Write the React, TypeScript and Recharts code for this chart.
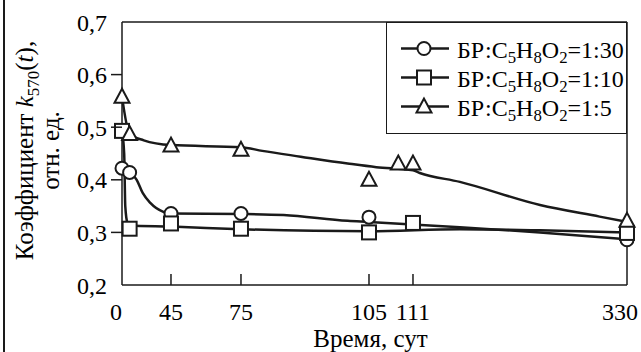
import React from 'react';
import { ComposedChart, Line, XAxis, YAxis, ReferenceLine, Legend } from 'recharts';

const FONT = '"Liberation Serif", "Times New Roman", serif';
const INK = '#1a1a1a';

// x axis: tick labels (days) and their positions on a 0..100 display scale (non-linear axis)
const xTickLabels = [0, 45, 75, 105, 111, 330];
const xTickPositions = [0, 9.7, 23.56, 48.91, 57.62, 100];
const yTicks = [0.2, 0.3, 0.4, 0.5, 0.6, 0.7];

const seriesRatios = ['1:30', '1:10', '1:5'];

// measured points (markers)
const m30Days = [0, 7, 45, 75, 105, 330];
const m30Vals = [0.422, 0.414, 0.336, 0.336, 0.329, 0.286];
const m10Days = [0, 7, 45, 75, 105, 111, 330];
const m10Vals = [0.493, 0.307, 0.317, 0.307, 0.3, 0.318, 0.299];
const m5Days = [0, 7, 45, 75, 105, 109, 111, 330];
const m5Vals = [0.558, 0.487, 0.465, 0.457, 0.4, 0.431, 0.431, 0.322];

// smoothed fit curves
const fit30Days = [0, 7, 13.5, 19, 26, 38, 45, 75, 85, 100, 105, 159, 241, 330];
const fit30Vals = [0.422, 0.416, 0.4, 0.375, 0.356, 0.339, 0.336, 0.335, 0.333, 0.322, 0.32, 0.31, 0.3, 0.287];
const fit10Days = [0, 2, 3, 5, 7, 45, 75, 105, 159, 241, 330];
const fit10Vals = [0.493, 0.45, 0.35, 0.318, 0.313, 0.311, 0.306, 0.302, 0.306, 0.304, 0.3];
const fit5Days = [0, 7, 20, 45, 75, 80, 89, 100, 106, 111, 118, 159, 241, 302, 330];
const fit5Vals = [0.558, 0.487, 0.475, 0.466, 0.462, 0.455, 0.444, 0.431, 0.424, 0.418, 0.413, 0.396, 0.352, 0.33, 0.32];

function toAxis(t: number): number {
  for (let i = 0; i < xTickLabels.length - 1; i++) {
    const a = xTickLabels[i];
    const b = xTickLabels[i + 1];
    if (t >= a && t <= b) {
      return xTickPositions[i] + ((t - a) / (b - a)) * (xTickPositions[i + 1] - xTickPositions[i]);
    }
  }
  return xTickPositions[xTickPositions.length - 1];
}

const build = (days: number[], vals: number[]) => days.map((d, i) => ({ x: toAxis(d), y: vals[i] }));

const CircleMark = ({ cx, cy }: any) => (
  <circle cx={cx} cy={cy} r={6.5} fill="#fff" stroke={INK} strokeWidth={2} />
);
const SquareMark = ({ cx, cy }: any) => (
  <rect x={cx - 7} y={cy - 7} width={14} height={14} fill="#fff" stroke={INK} strokeWidth={2} />
);
const TriangleMark = ({ cx, cy }: any) => (
  <polygon
    points={`${cx},${cy - 8} ${cx - 7.5},${cy + 6} ${cx + 7.5},${cy + 6}`}
    fill="#fff"
    stroke={INK}
    strokeWidth={2}
    strokeLinejoin="miter"
  />
);
const marks = [CircleMark, SquareMark, TriangleMark];

const XTick = (props: any) => {
  const { x, y, payload } = props;
  const idx = xTickPositions.indexOf(payload.value);
  const last = idx === xTickPositions.length - 1;
  const inner = idx > 0 && !last;
  const tx = idx === 0 ? x - 6 : last ? x + 11 : x;
  return (
    <g>
      {inner && <line x1={x} x2={x} y1={y - 11} y2={y} stroke={INK} strokeWidth={1.5} />}
      <text
        x={tx}
        y={y + 35}
        textAnchor={last ? 'end' : 'middle'}
        fontFamily={FONT}
        style={{ fontFamily: FONT }}
        fontSize={24}
        fill="#000"
      >
        {xTickLabels[idx]}
      </text>
    </g>
  );
};

const YTick = (props: any) => {
  const { x, y, payload } = props;
  const v = payload.value as number;
  const inner = v > yTicks[0] + 1e-9 && v < yTicks[yTicks.length - 1] - 1e-9;
  return (
    <g>
      {inner && <line x1={x + 4} x2={x + 15} y1={y} y2={y} stroke={INK} strokeWidth={1.5} />}
      <text
        x={x}
        y={y}
        dy="0.355em"
        textAnchor="end"
        fontFamily={FONT}
        style={{ fontFamily: FONT }}
        fontSize={24}
        fill="#000"
      >
        {v.toFixed(1).replace('.', ',')}
      </text>
    </g>
  );
};

const YTitle = (props: any) => {
  const vb = props.viewBox || { x: 0, y: 22, width: 122, height: 263 };
  const cy = vb.y + vb.height / 2 - 3;
  const x1 = 33;
  const x2 = 59;
  return (
    <g fontFamily={FONT} fontSize={25} fill="#000">
      <text x={x1} y={cy} textAnchor="middle" transform={`rotate(-90 ${x1} ${cy})`}>
        <tspan>Коэффициент </tspan>
        <tspan fontStyle="italic">k</tspan>
        <tspan fontSize={17} dy={6}>570</tspan>
        <tspan dy={-6}>(</tspan>
        <tspan fontStyle="italic">t</tspan>
        <tspan>),</tspan>
      </text>
      <text x={x2} y={cy} textAnchor="middle" transform={`rotate(-90 ${x2} ${cy})`}>
        отн. ед.
      </text>
    </g>
  );
};

const XTitle = (props: any) => {
  const vb = props.viewBox || { x: 122, y: 285, width: 505, height: 50 };
  return (
    <text x={vb.x + vb.width / 2 - 4} y={vb.y + 62} textAnchor="middle" fontFamily={FONT} fontSize={25} fill="#000">
      Время, сут
    </text>
  );
};

const subStyle: React.CSSProperties = { fontSize: '0.7em', position: 'relative', top: '0.32em', lineHeight: 1 };

const LegendBox = () => (
  <div
    style={{
      width: 241,
      height: 112,
      border: `1.5px solid ${INK}`,
      boxSizing: 'border-box',
      background: '#fff',
      fontFamily: FONT,
      fontSize: 24,
      color: '#000',
      position: 'relative',
    }}
  >
    {seriesRatios.map((r, i) => {
      const Mark = marks[i];
      return (
        <div
          key={r}
          style={{ position: 'absolute', left: 0, top: 11 + i * 29, height: 29, display: 'flex', alignItems: 'center', whiteSpace: 'nowrap' }}
        >
          <svg width={70} height={29} style={{ display: 'block' }}>
            <line x1={14} x2={62} y1={14.5} y2={14.5} stroke={INK} strokeWidth={2.5} />
            <Mark cx={37} cy={14.5} />
          </svg>
          <span style={{ lineHeight: 1, position: 'relative', top: 1, fontFamily: FONT }}>
            БР:C<span style={subStyle}>5</span>H<span style={subStyle}>8</span>O<span style={subStyle}>2</span>=
            {r}
          </span>
        </div>
      );
    })}
  </div>
);

export default function App() {
  const fits = [build(fit30Days, fit30Vals), build(fit10Days, fit10Vals), build(fit5Days, fit5Vals)];
  const markers = [build(m30Days, m30Vals), build(m10Days, m10Vals), build(m5Days, m5Vals)];
  return (
    <div style={{ position: 'absolute', left: 0, top: 0, width: 641, height: 352, background: '#fff', fontFamily: FONT }}>
      <div style={{ position: 'absolute', left: 3, top: 0, width: 1.6, height: 352, background: INK }} />
      <ComposedChart width={641} height={352} margin={{ top: 22, right: 14, bottom: 17, left: 0 }}>
        <XAxis
          dataKey="x"
          type="number"
          domain={[0, 100]}
          ticks={xTickPositions}
          interval={0}
          tickSize={0}
          tickMargin={0}
          tickLine={false}
          tick={<XTick />}
          height={50}
          axisLine={{ stroke: INK, strokeWidth: 1.5 }}
          label={<XTitle />}
        />
        <YAxis
          dataKey="y"
          type="number"
          domain={[0.2, 0.7]}
          ticks={yTicks}
          interval={0}
          tickSize={11}
          tickMargin={4}
          tickLine={false}
          tick={<YTick />}
          width={122}
          axisLine={{ stroke: INK, strokeWidth: 1.5 }}
          label={<YTitle />}
        />
        <ReferenceLine y={0.7} stroke={INK} strokeWidth={1.5} />
        <ReferenceLine x={100} stroke={INK} strokeWidth={1.5} />
        {fits.map((d, i) => (
          <Line
            key={`fit${i}`}
            data={d}
            dataKey="y"
            type="monotone"
            stroke={INK}
            strokeWidth={2.5}
            dot={false}
            activeDot={false}
            isAnimationActive={false}
            legendType="none"
          />
        ))}
        {markers.map((d, i) => {
          const Mark = marks[i];
          return (
            <Line
              key={`mk${i}`}
              data={d}
              dataKey="y"
              stroke="none"
              strokeWidth={0}
              dot={(p: any) => <Mark key={`d${i}-${p.index}`} cx={p.cx} cy={p.cy} />}
              activeDot={false}
              isAnimationActive={false}
              legendType="none"
            />
          );
        })}
        <Legend
          layout="vertical"
          align="center"
          verticalAlign="middle"
          content={<LegendBox />}
          wrapperStyle={{ left: 386, top: 22, width: 241, height: 112 }}
        />
      </ComposedChart>
    </div>
  );
}
